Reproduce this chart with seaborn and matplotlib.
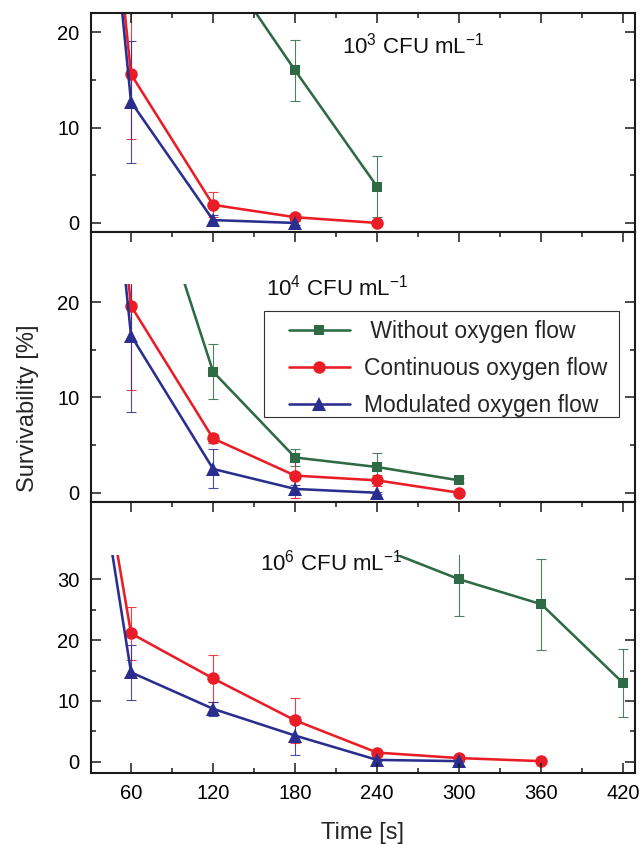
import numpy as np
import pandas as pd
import matplotlib
matplotlib.use("Agg")
import matplotlib.pyplot as plt
import matplotlib.transforms as mtransforms
from matplotlib.lines import Line2D
from matplotlib.patches import Rectangle
from matplotlib.ticker import FixedLocator
import seaborn as sns

# ---------------- data ----------------
series_names = ["Without oxygen flow", "Continuous oxygen flow", "Modulated oxygen flow"]

# 10^3 CFU/mL
t3_without = [0, 120, 180, 240]
v3_without = [100, 28.6, 16.0, 3.8]
e3_without = [0, 0, 3.2, 3.2]
t3_cont = [0, 60, 120, 180, 240]
v3_cont = [100, 15.6, 1.9, 0.6, 0.0]
e3_cont = [0, 6.8, 1.3, 0.3, 0.3]
t3_mod = [0, 60, 120, 180]
v3_mod = [100, 12.7, 0.3, 0.0]
e3_mod = [0, 6.4, 0.5, 0.2]

# 10^4 CFU/mL
t4_without = [0, 60, 120, 180, 240, 300]
v4_without = [100, 39.3, 12.7, 3.7, 2.7, 1.3]
e4_without = [0, 0, 2.9, 0.9, 1.5, 0.3]
t4_cont = [0, 60, 120, 180, 240, 300]
v4_cont = [100, 19.6, 5.7, 1.8, 1.3, 0.0]
e4_cont = [0, 8.8, 0.5, 2.35, 0.6, 0.2]
t4_mod = [0, 60, 120, 180, 240]
v4_mod = [100, 16.5, 2.5, 0.4, 0.0]
e4_mod = [0, 8.0, 2.05, 0.4, 0.1]

# 10^6 CFU/mL
t6_without = [0, 240, 300, 360, 420]
v6_without = [100, 35.3, 30.0, 25.9, 12.9]
e6_without = [0, 0, 6.1, 7.5, 5.6]
t6_cont = [0, 60, 120, 180, 240, 300, 360]
v6_cont = [100, 21.1, 13.7, 6.8, 1.5, 0.6, 0.1]
e6_cont = [0, 4.3, 3.9, 3.7, 0.3, 0.3, 0.2]
t6_mod = [0, 60, 120, 180, 240, 300]
v6_mod = [100, 14.7, 8.7, 4.3, 0.3, 0.1]
e6_mod = [0, 4.5, 1.2, 3.2, 0.2, 0.1]

panel_labels = ["10$^{3}$ CFU mL$^{-1}$", "10$^{4}$ CFU mL$^{-1}$", "10$^{6}$ CFU mL$^{-1}$"]
x_major = [60, 120, 180, 240, 300, 360, 420]
x_tick_labels = ["60", "120", "180", "240", "300", "360", "420"]
x_minor = [90, 150, 210, 270, 330, 390]
x_label = "Time [s]"
y_label = "Survivability [%]"

# ---------------- style ----------------
sns.set_theme(style="ticks")
plt.rcParams["font.family"] = ["Liberation Sans", "DejaVu Sans"]
plt.rcParams["mathtext.fontset"] = "custom"
plt.rcParams["mathtext.rm"] = "Liberation Sans"
plt.rcParams["mathtext.it"] = "Liberation Sans:italic"
plt.rcParams["mathtext.bf"] = "Liberation Sans:bold"
plt.rcParams["mathtext.default"] = "regular"

colors = {"Without oxygen flow": "#2E6B45",
          "Continuous oxygen flow": "#EA1D27",
          "Modulated oxygen flow": "#2A2E8E"}
markers = {"Without oxygen flow": "s",
           "Continuous oxygen flow": "o",
           "Modulated oxygen flow": "^"}
msizes = {"s": 7.8, "o": 9.0, "^": 9.6}
LW = 1.85


def make_df(parts):
    rows = []
    for name, (t, v, e) in zip(series_names, parts):
        for ti, vi, ei in zip(t, v, e):
            rows.append({"time": ti, "surv": vi, "err": ei, "series": name})
    return pd.DataFrame(rows)


dfs = [
    make_df([(t3_without, v3_without, e3_without), (t3_cont, v3_cont, e3_cont), (t3_mod, v3_mod, e3_mod)]),
    make_df([(t4_without, v4_without, e4_without), (t4_cont, v4_cont, e4_cont), (t4_mod, v4_mod, e4_mod)]),
    make_df([(t6_without, v6_without, e6_without), (t6_cont, v6_cont, e6_cont), (t6_mod, v6_mod, e6_mod)]),
]

W, H = 642, 844
fig = plt.figure(figsize=(W / 100, H / 100), dpi=100)

left_px, right_px = 90.7, 635
panel_px = [(13.3, 232.0), (232.0, 502.3), (502.3, 773.3)]
ylims = [(-0.95, 22.0), (-1.0, 27.36), (-1.9, 42.66)]
clip_levels = [None, 21.9, 34.0]
y_majors = [[0, 10, 20], [0, 10, 20], [0, 10, 20, 30]]
y_minors = [[5, 15], [5, 15], [5, 15, 25]]
text_pos = [(214.4, 17.8), (158.8, 20.7), (154.5, 31.5)]

axes = []
for i in range(3):
    top, bot = panel_px[i]
    ax = fig.add_axes([left_px / W, 1 - bot / H, (right_px - left_px) / W, (bot - top) / H])
    axes.append(ax)
    df = dfs[i]
    sns.lineplot(data=df, x="time", y="surv", hue="series", style="series",
                 hue_order=series_names, style_order=series_names,
                 palette=colors, markers=markers, dashes=False,
                 estimator=None, errorbar=None, sort=True, legend=False,
                 linewidth=LW, ax=ax, zorder=2)
    for ln in ax.lines:
        m = ln.get_marker()
        ln.set_markersize(msizes.get(m, 8))
        ln.set_markeredgewidth(0)
        ln.set_markerfacecolor(ln.get_color())
    for name in series_names:
        sub = df[(df["series"] == name) & (df["err"] > 0)]
        ax.errorbar(sub["time"], sub["surv"], yerr=sub["err"], fmt="none",
                    ecolor=colors[name], elinewidth=0.8, capsize=3.9, capthick=0.8,
                    alpha=0.85, zorder=1.9)
    ax.set_xlim(30.5, 428.5)
    ax.set_ylim(*ylims[i])
    if clip_levels[i] is not None:
        trans = mtransforms.blended_transform_factory(ax.transAxes, ax.transData)
        ax.add_patch(Rectangle((0, clip_levels[i]), 1, ylims[i][1] - clip_levels[i],
                               transform=trans, facecolor="white", edgecolor="none",
                               zorder=2.3))
    ax.set_axisbelow(False)
    ax.set_xlabel("")
    ax.set_ylabel("")
    ax.xaxis.set_major_locator(FixedLocator(x_major))
    ax.xaxis.set_minor_locator(FixedLocator(x_minor))
    ax.set_xticks(x_major, labels=x_tick_labels)
    ax.yaxis.set_major_locator(FixedLocator(y_majors[i]))
    ax.yaxis.set_minor_locator(FixedLocator(y_minors[i]))
    ax.tick_params(axis="both", which="both", direction="in", top=True, right=True,
                   bottom=(i == 2), labelbottom=(i == 2), labelleft=True,
                   colors="#1a1a1a", labelcolor="black", labelsize=14.5)
    ax.tick_params(axis="both", which="major", length=7, width=1.1)
    ax.tick_params(axis="both", which="minor", length=3.5, width=1.1)
    ax.tick_params(axis="x", pad=8)
    ax.tick_params(axis="y", pad=8)
    for sp in ax.spines.values():
        sp.set_visible(True)
        sp.set_linewidth(1.5)
        sp.set_color("#1a1a1a")
        sp.set_zorder(2.6)
    ax.text(text_pos[i][0], text_pos[i][1], panel_labels[i], fontsize=16,
            ha="left", va="baseline", zorder=3, color="#111111")

# legend in middle panel: frame drawn as a box, entries placed inside
axm = axes[1]
mid_top, mid_bot = panel_px[1]
def fx(px):
    return (px - left_px) / (right_px - left_px)
def fy(py):
    return (mid_bot - py) / (mid_bot - mid_top)

axm.add_patch(Rectangle((fx(264), fy(416.7)), fx(619) - fx(264), fy(311) - fy(416.7),
                        transform=axm.transAxes, facecolor="white", edgecolor="#333333",
                        linewidth=0.8, zorder=4.5))
handles = [Line2D([], [], color=colors[n], marker=markers[n], markersize=msizes[markers[n]],
                  markeredgewidth=0, linewidth=LW) for n in series_names]
leg = axm.legend(handles, [" " + series_names[0], series_names[1], series_names[2]],
                 loc="center left", bbox_to_anchor=(fx(289), fy(368.5)), borderaxespad=0,
                 frameon=False, fontsize=16.5, handlelength=2.66, handletextpad=0.62,
                 borderpad=0, labelspacing=0.6)
leg.set_zorder(5)

fig.text(28 / W, 1 - 408 / H, y_label, rotation=90, ha="center", va="center", fontsize=17)
fig.text(((left_px + right_px) / 2) / W, 0.0065, x_label, ha="center", va="baseline", fontsize=17)

fig.savefig("out.png", dpi=100)
